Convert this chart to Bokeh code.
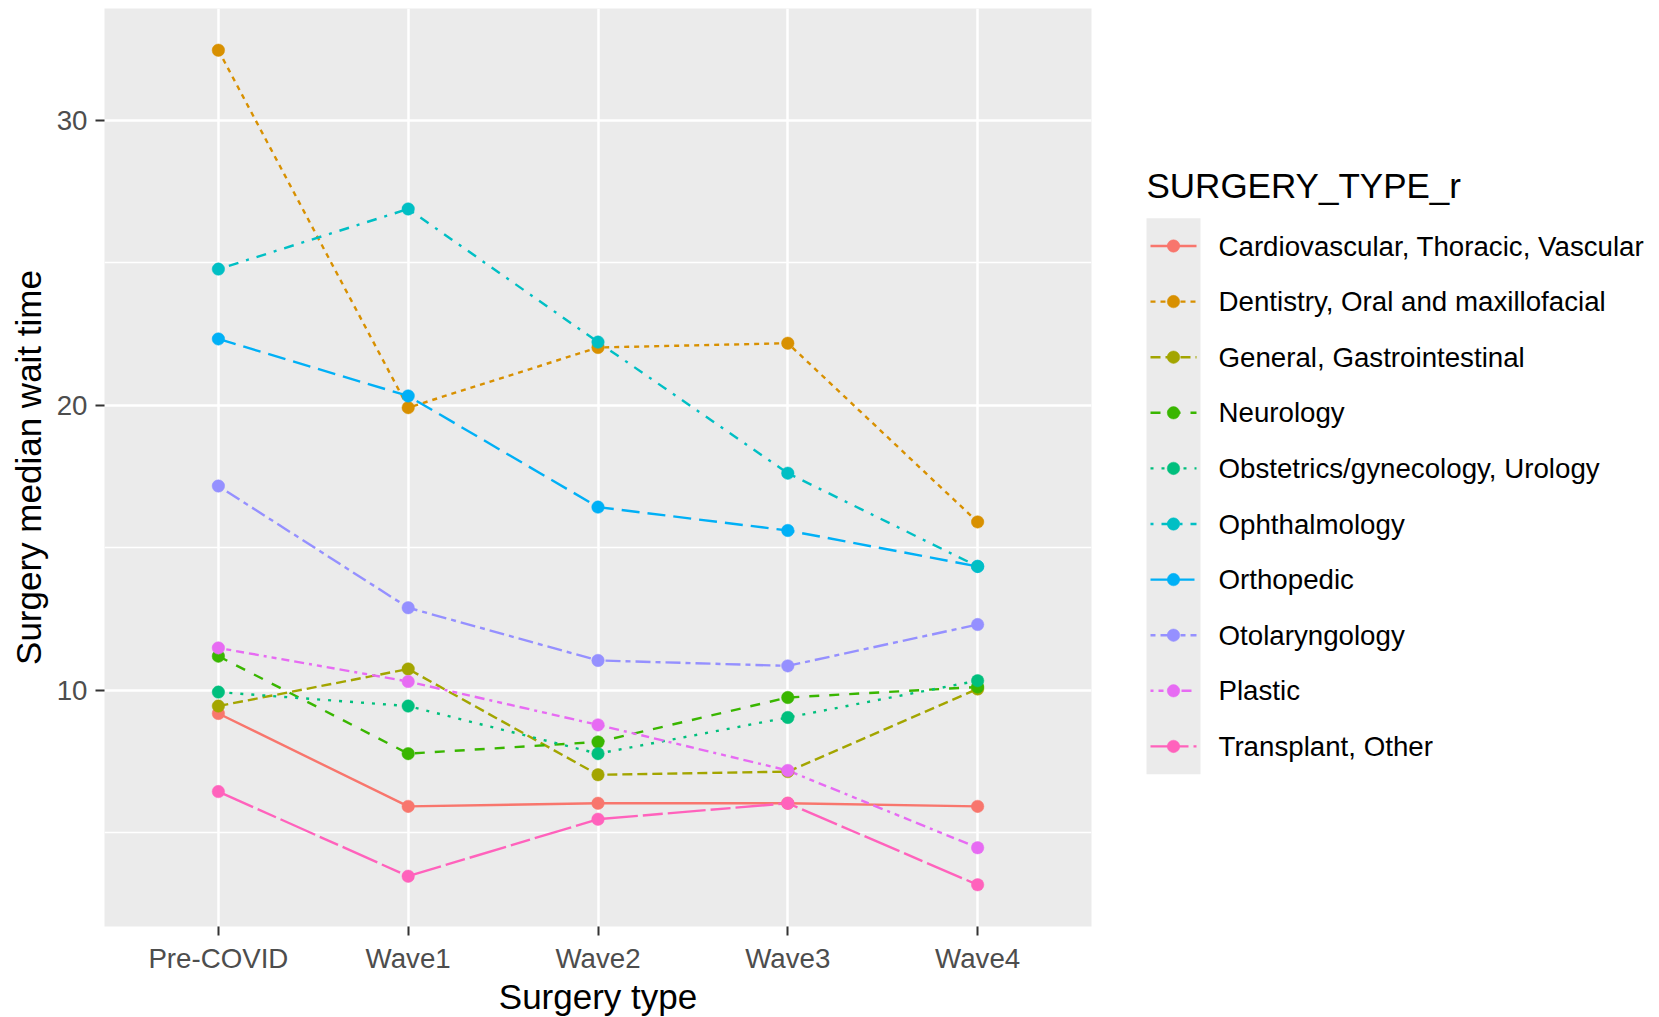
from bokeh.plotting import figure
from bokeh.models import FactorRange, Range1d, FixedTicker
from bokeh.layouts import row
from bokeh.embed import file_html
from bokeh.resources import INLINE
from bokeh.core.properties import value

# ---------------- data ----------------
waves = ["Pre-COVID", "Wave1", "Wave2", "Wave3", "Wave4"]
surgery_types = [
    "Cardiovascular, Thoracic, Vascular",
    "Dentistry, Oral and maxillofacial",
    "General, Gastrointestinal",
    "Neurology",
    "Obstetrics/gynecology, Urology",
    "Ophthalmology",
    "Orthopedic",
    "Otolaryngology",
    "Plastic",
    "Transplant, Other",
]
cardiovascular = [9.18, 5.92, 6.03, 6.03, 5.92]
dentistry = [32.45, 19.91, 22.02, 22.17, 15.90]
general = [9.44, 10.74, 7.03, 7.14, 10.04]
neurology = [11.19, 7.77, 8.18, 9.74, 10.11]
obstetrics = [9.93, 9.44, 7.77, 9.04, 10.33]
ophthalmology = [24.77, 26.88, 22.21, 17.61, 14.34]
orthopedic = [22.32, 20.32, 16.42, 15.60, 14.34]
otolaryngology = [17.16, 12.89, 11.04, 10.85, 12.30]
plastic = [11.48, 10.30, 8.78, 7.18, 4.47]
transplant = [6.44, 3.47, 5.47, 6.03, 3.17]
y_major_ticks = [10, 20, 30]
y_minor_ticks = [5, 15, 25]

series = [cardiovascular, dentistry, general, neurology, obstetrics,
          ophthalmology, orthopedic, otolaryngology, plastic, transplant]

# ---------------- styles ----------------
colors = ["#F8766D", "#D89000", "#A3A500", "#39B600", "#00BF7D",
          "#00BFC4", "#00B0F6", "#9590FF", "#E76BF3", "#FF62BC"]
dashes = ["solid", "5 5", "10 5", "10 10", "3 8", "3 8 10 8", "18 8",
          "5 5 15 5", "3 5 5 5 8 5 10 5", "38 5 20 5"]
point_order = [0, 1, 2, 3, 4, 6, 5, 7, 8, 9]
FONT = "Liberation Sans"
LW = 2.4
PSIZE = 12.5

# ggplot-like continuous expansion (5%)
all_vals = [v for s in series for v in s]
lo, hi = min(all_vals), max(all_vals)
pad = 0.05 * (hi - lo)

H = 1016
TOP = 8
FH = 918
BOTTOM = H - TOP - FH

p = figure(
    x_range=FactorRange(*waves, range_padding=0.1, range_padding_units="absolute"),
    y_range=Range1d(lo - pad, hi + pad),
    width=1138, height=H,
    frame_width=987, frame_height=FH,
    min_border_left=104, min_border_right=47, min_border_top=TOP, min_border_bottom=BOTTOM,
    output_backend="svg", toolbar_location=None,
)
p.background_fill_color = "#EBEBEB"
p.border_fill_color = "white"
p.outline_line_color = None

p.yaxis.ticker = FixedTicker(ticks=y_major_ticks, minor_ticks=y_minor_ticks)
p.ygrid.ticker = FixedTicker(ticks=y_major_ticks, minor_ticks=y_minor_ticks)
for g in (p.xgrid, p.ygrid):
    g.grid_line_color = "white"
    g.grid_line_width = 2.5
p.ygrid.minor_grid_line_color = "white"
p.ygrid.minor_grid_line_width = 1.3

for ax in (p.xaxis, p.yaxis):
    ax.axis_line_color = None
    ax.major_tick_line_color = "#333333"
    ax.major_tick_line_width = 2
    ax.major_tick_out = 9
    ax.major_tick_in = 0
    ax.minor_tick_line_color = None
    ax.major_label_text_font = FONT
    ax.major_label_text_font_size = "27.7px"
    ax.major_label_text_color = "#4D4D4D"
    ax.axis_label_text_font = FONT
    ax.axis_label_text_font_size = "35px"
    ax.axis_label_text_font_style = "normal"
    ax.axis_label_text_color = "black"

p.xaxis.axis_label = "Surgery type"
p.yaxis.axis_label = "Surgery median wait time"
p.xaxis.major_label_standoff = 7
p.yaxis.major_label_standoff = 8
p.xaxis.axis_label_standoff = 0
p.yaxis.axis_label_standoff = 6

for s, c, d in zip(series, colors, dashes):
    p.line(x=waves, y=s, line_color=c, line_width=LW, line_dash=d)
for i in point_order:
    p.scatter(x=waves, y=series[i], fill_color=colors[i], line_color=colors[i],
              size=PSIZE, line_width=0.5)

# ---------------- legend panel ----------------
LW_W = 517
lg = figure(
    width=LW_W, height=H, frame_width=LW_W, frame_height=FH,
    x_range=Range1d(0, LW_W), y_range=Range1d(TOP + FH, TOP),
    min_border_left=0, min_border_right=0, min_border_top=TOP, min_border_bottom=BOTTOM,
    output_backend="svg", toolbar_location=None,
)
lg.axis.visible = False
lg.grid.visible = False
lg.outline_line_color = None
lg.background_fill_color = "white"
lg.border_fill_color = "white"

row0, step = 245.5, 55.6
n = len(surgery_types)
key_left, key_right = 8, 62
lg.quad(left=[key_left], right=[key_right],
        top=[row0 - step / 2], bottom=[row0 + step * (n - 0.5)],
        fill_color="#EBEBEB", line_color=None)
lg.text(x=[8], y=[185], text=["SURGERY_TYPE_r"], text_font=value(FONT),
        text_font_size="35px", text_baseline="middle", text_align="left",
        text_color="black")
ys = [row0 + i * step for i in range(n)]
for i in range(n):
    lg.line(x=[12, 58], y=[ys[i], ys[i]], line_color=colors[i], line_width=LW,
            line_dash=dashes[i])
lg.scatter(x=[35] * n, y=ys, fill_color=colors, line_color=colors,
           size=PSIZE, line_width=0.5)
lg.text(x=[80] * n, y=ys, text=surgery_types, text_font=value(FONT),
        text_font_size="27.7px", text_baseline="middle", text_align="left",
        text_color="black")

layout = row(p, lg, spacing=0)
open("out.html", "w").write(file_html(layout, INLINE))
